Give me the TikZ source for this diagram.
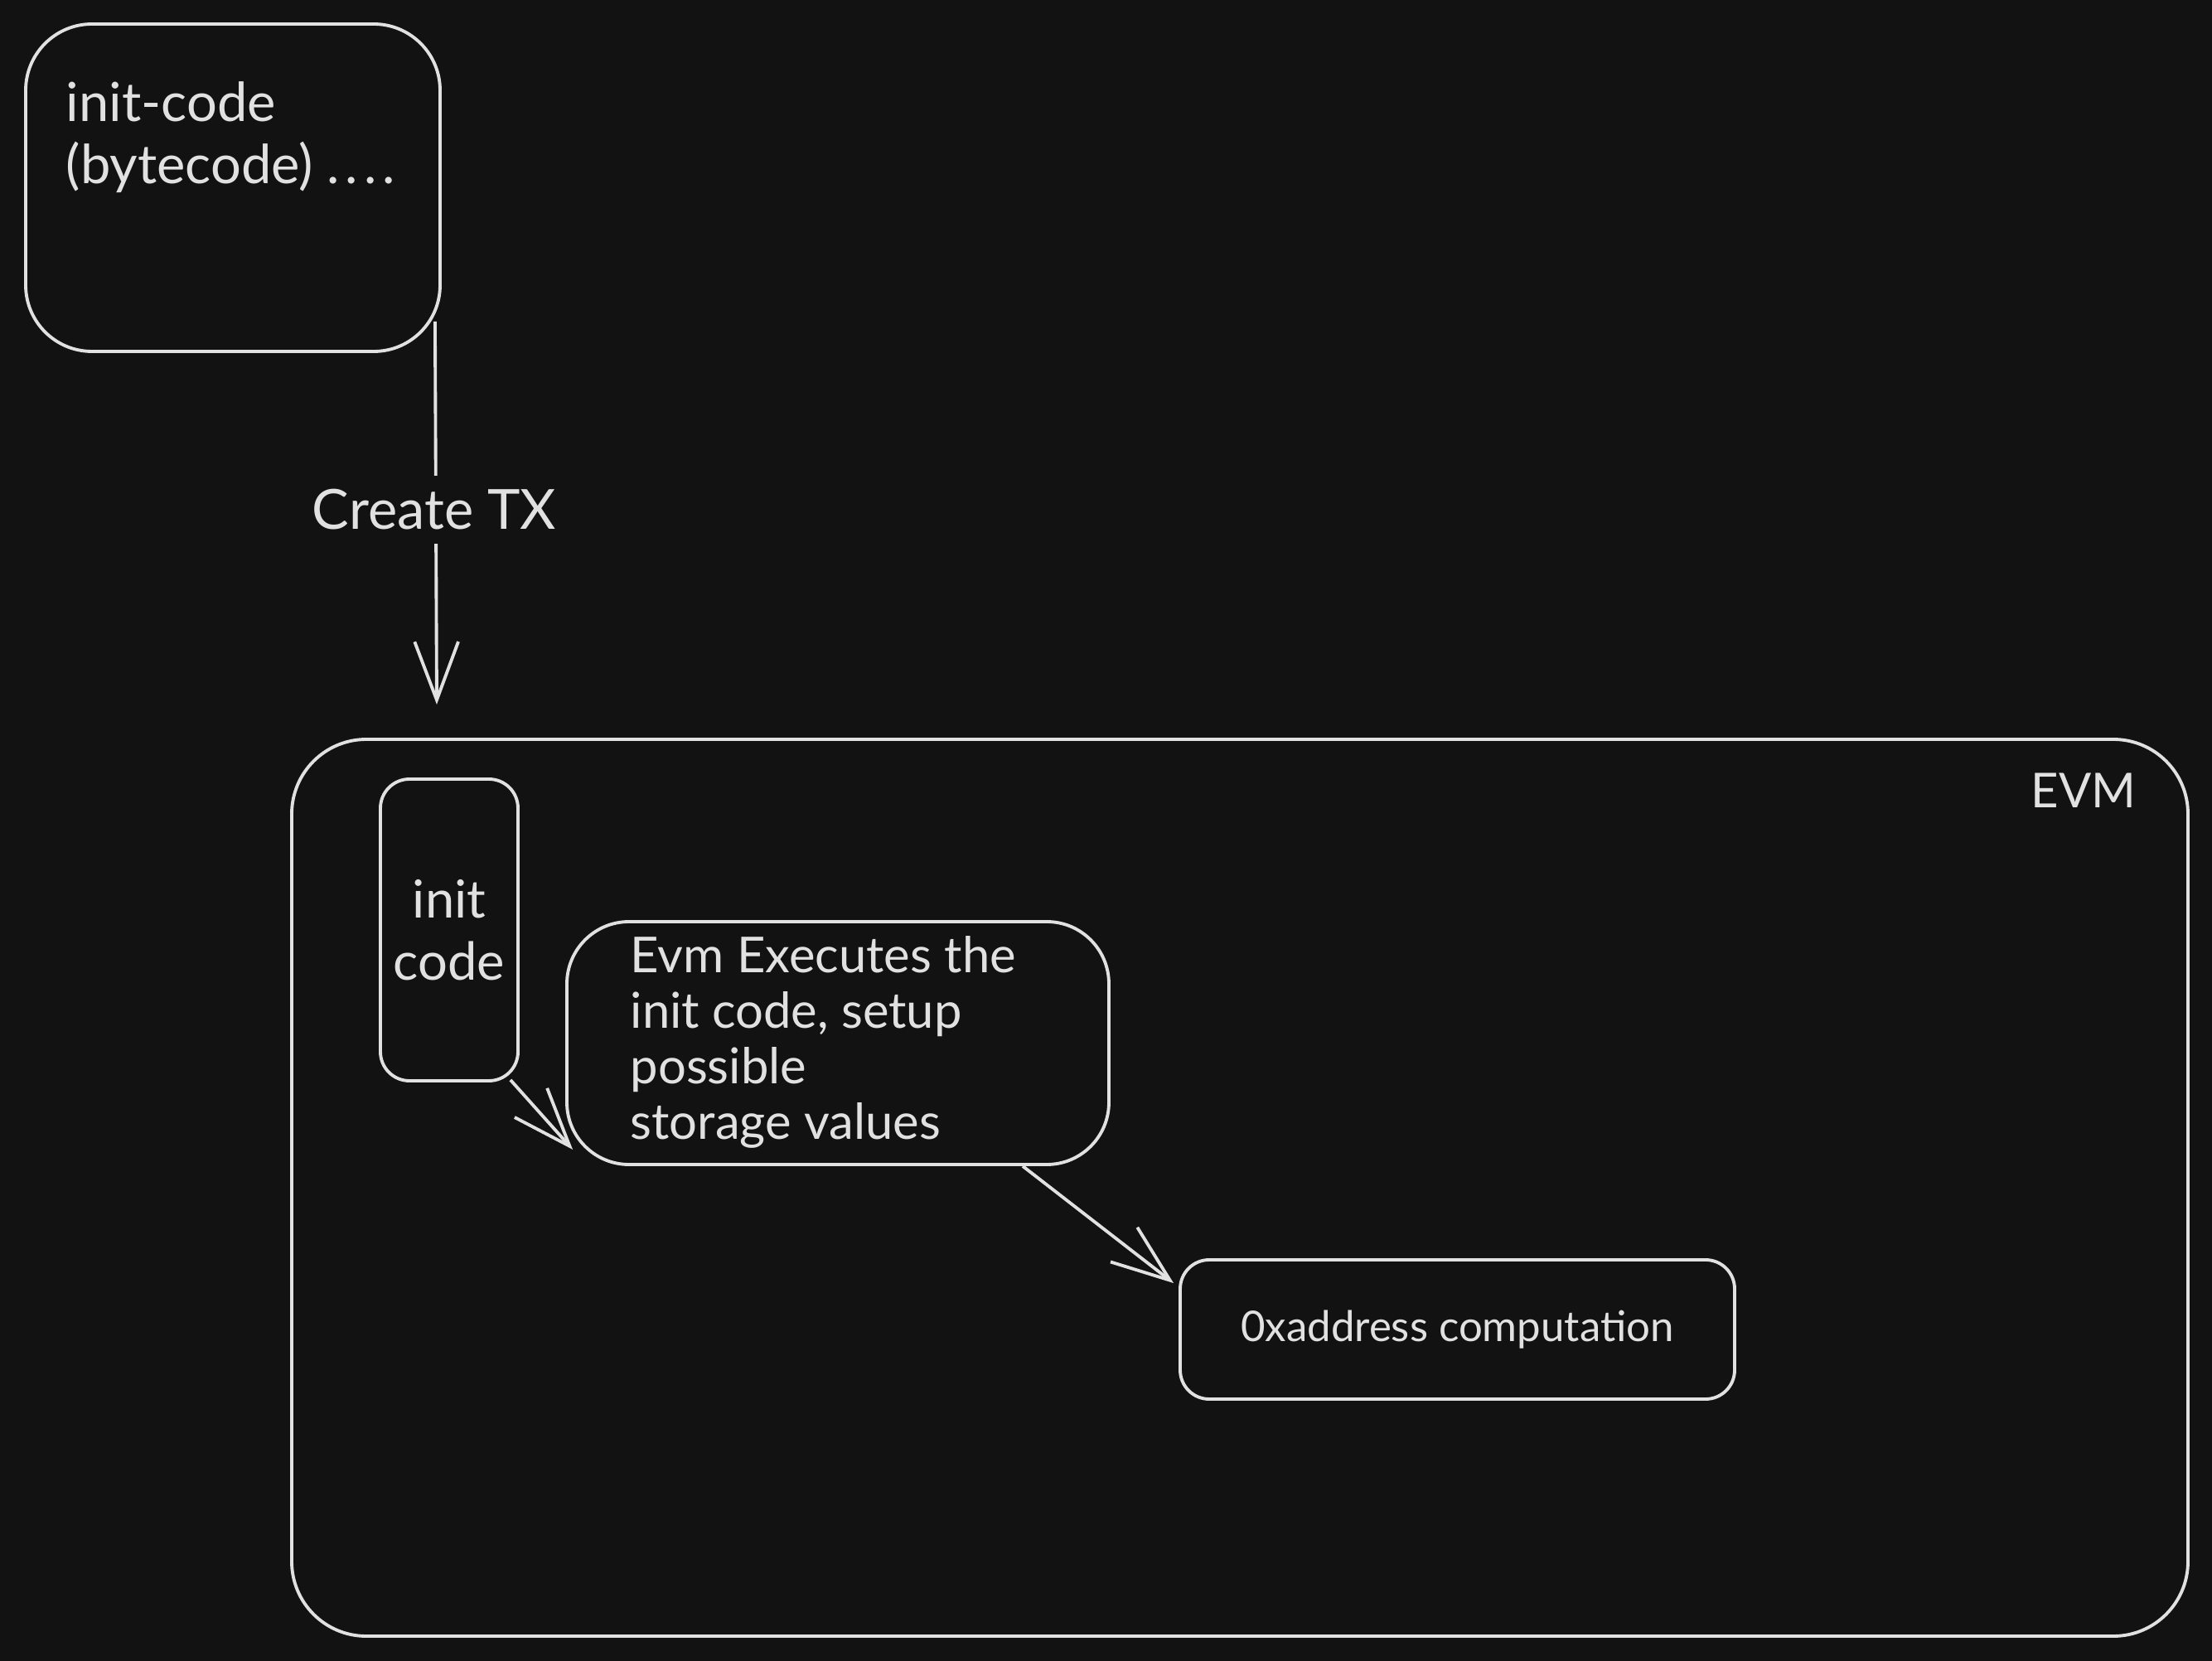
\documentclass[tikz,border=0pt]{standalone}
\usepackage{fontspec}
\setmainfont{Lato}
\usetikzlibrary{arrows.meta,calc}
\definecolor{bg}{HTML}{121212}
\definecolor{ink}{HTML}{E1E1E1}
\tikzset{
  sketchbox/.style={draw=ink, line width=1.1pt, rectangle, inner sep=0pt},
  txt/.style={text=ink, inner sep=0pt},
  conn/.style={draw=ink, line width=1.1pt, -{Straight Barb[length=20pt,width=15pt,line width=1.1pt]}},
}
\begin{document}
\begin{tikzpicture}
\fill[bg] (0,0) rectangle (26.69,-20.04);
\useasboundingbox (0,0) rectangle (26.69,-20.04);

% top box
\node[sketchbox, rounded corners=0.8cm, minimum width=5.00cm, minimum height=3.95cm] (topbox) at (2.81,-2.265) {};
\node[txt, anchor=north west, align=left, font=\fontsize{18.5pt}{21.3pt}\selectfont] (toptext) at (0.79,-0.98) {init-code\\(bytecode) .\kern2pt.\kern2pt.\kern2pt.};

% EVM container
\node[sketchbox, rounded corners=0.9cm, minimum width=22.88cm, minimum height=10.82cm] (evmbox) at (14.96,-14.33) {};
\node[txt, font=\fontsize{16.5pt}{20pt}\selectfont] (evmlabel) at (25.14,-9.54) {EVM};

% init code
\node[sketchbox, rounded corners=0.35cm, minimum width=1.66cm, minimum height=3.64cm, text=ink, align=center, font=\fontsize{18pt}{21.3pt}\selectfont] (initcode) at (5.42,-11.22) {init\\code};

% Evm executes
\node[sketchbox, rounded corners=0.75cm, minimum width=6.54cm, minimum height=2.93cm] (evm) at (10.11,-12.585) {};
\node[txt, anchor=north west, align=left, font=\fontsize{17pt}{19pt}\selectfont] (evmtext) at (7.60,-11.29) {Evm Executes the\\init code, setup\\possible\\storage values};

% address computation
\node[sketchbox, rounded corners=0.35cm, minimum width=6.69cm, minimum height=1.68cm, text=ink, font=\fontsize{14.5pt}{17pt}\selectfont] (ox) at (17.585,-16.04) {0xaddress computation};

% connectors
\coordinate (a1e) at (5.27,-8.50);
\draw[conn] ($(topbox.east)+(-0.08,-1.615)$) -- (a1e);
\node[txt, fill=bg, inner xsep=4pt, inner ysep=0.17cm, font=\fontsize{19pt}{22pt}\selectfont] (createtx) at (5.24,-6.15) {Create TX};

\draw[conn] ($(initcode.south east)+(-0.11,0.03)$) -- ($(evm.south west)+(0.09,0.2)$);
\draw[conn] ($(evm.south)+(2.23,0)$) -- ($(ox.north west)+(-0.06,-0.30)$);
\end{tikzpicture}
\end{document}
